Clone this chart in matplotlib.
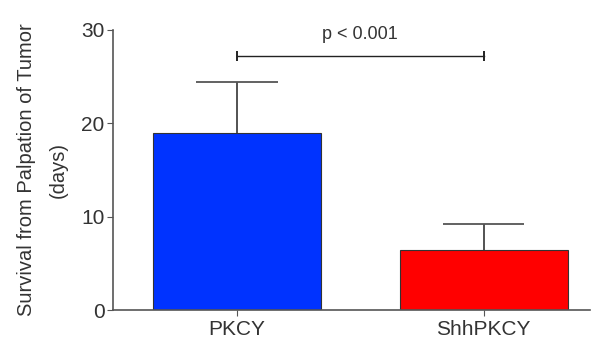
import matplotlib
matplotlib.use("Agg")
import matplotlib.pyplot as plt

# survival after palpation, mean and error (days)
groups = ["PKCY", "ShhPKCY"]
means = [19.0, 6.4]
errors = [5.4, 2.8]
colors = ["#0033ff", "#ff0000"]
p_text = "p < 0.001"
p_level = 27.2

plt.rcParams["font.family"] = ["Liberation Sans", "DejaVu Sans"]

fig = plt.figure(figsize=(5.93, 3.4), dpi=100)
ax = fig.add_axes([0.1906, 0.088, 0.804, 0.824])

x = list(range(len(groups)))
ax.bar(x, means, width=0.68, color=colors, edgecolor="#333333", linewidth=0.8, zorder=2)

# upper error bars only
tops = [m + e for m, e in zip(means, errors)]
ax.vlines(x, means, tops, color="#444444", lw=1.3, zorder=1)
ax.hlines(tops, [xi - 0.165 for xi in x], [xi + 0.165 for xi in x], color="#555555", lw=1.3, zorder=1)

# significance bracket
ax.plot([x[0], x[1]], [p_level, p_level], color="#222222", lw=1.0)
ax.plot([x[0], x[1]], [p_level, p_level], ls="none", marker="|", ms=7, mew=1.4, color="#222222")
ax.text((x[0] + x[1]) / 2, p_level + 1.4, p_text, ha="center", va="bottom",
        fontsize=13, color="#333333")

ax.set_xlim(-0.502, 1.43)
ax.set_ylim(0, 30)
ax.set_yticks([0, 10, 20, 30])
ax.set_xticks(x)
ax.set_xticklabels(groups)
ax.set_ylabel("Survival from Palpation of Tumor\n(days)", fontsize=14.5,
              color="#333333", linespacing=1.8, labelpad=10)

for s in ["top", "right"]:
    ax.spines[s].set_visible(False)
for s in ["left", "bottom"]:
    ax.spines[s].set_color("#555555")
    ax.spines[s].set_linewidth(1.2)
ax.tick_params(axis="y", length=4, color="#555555", labelsize=15, labelcolor="#333333", pad=2)
ax.tick_params(axis="x", length=4, color="#555555", labelsize=15, labelcolor="#333333", pad=3)

fig.savefig("out.png", dpi=100)
